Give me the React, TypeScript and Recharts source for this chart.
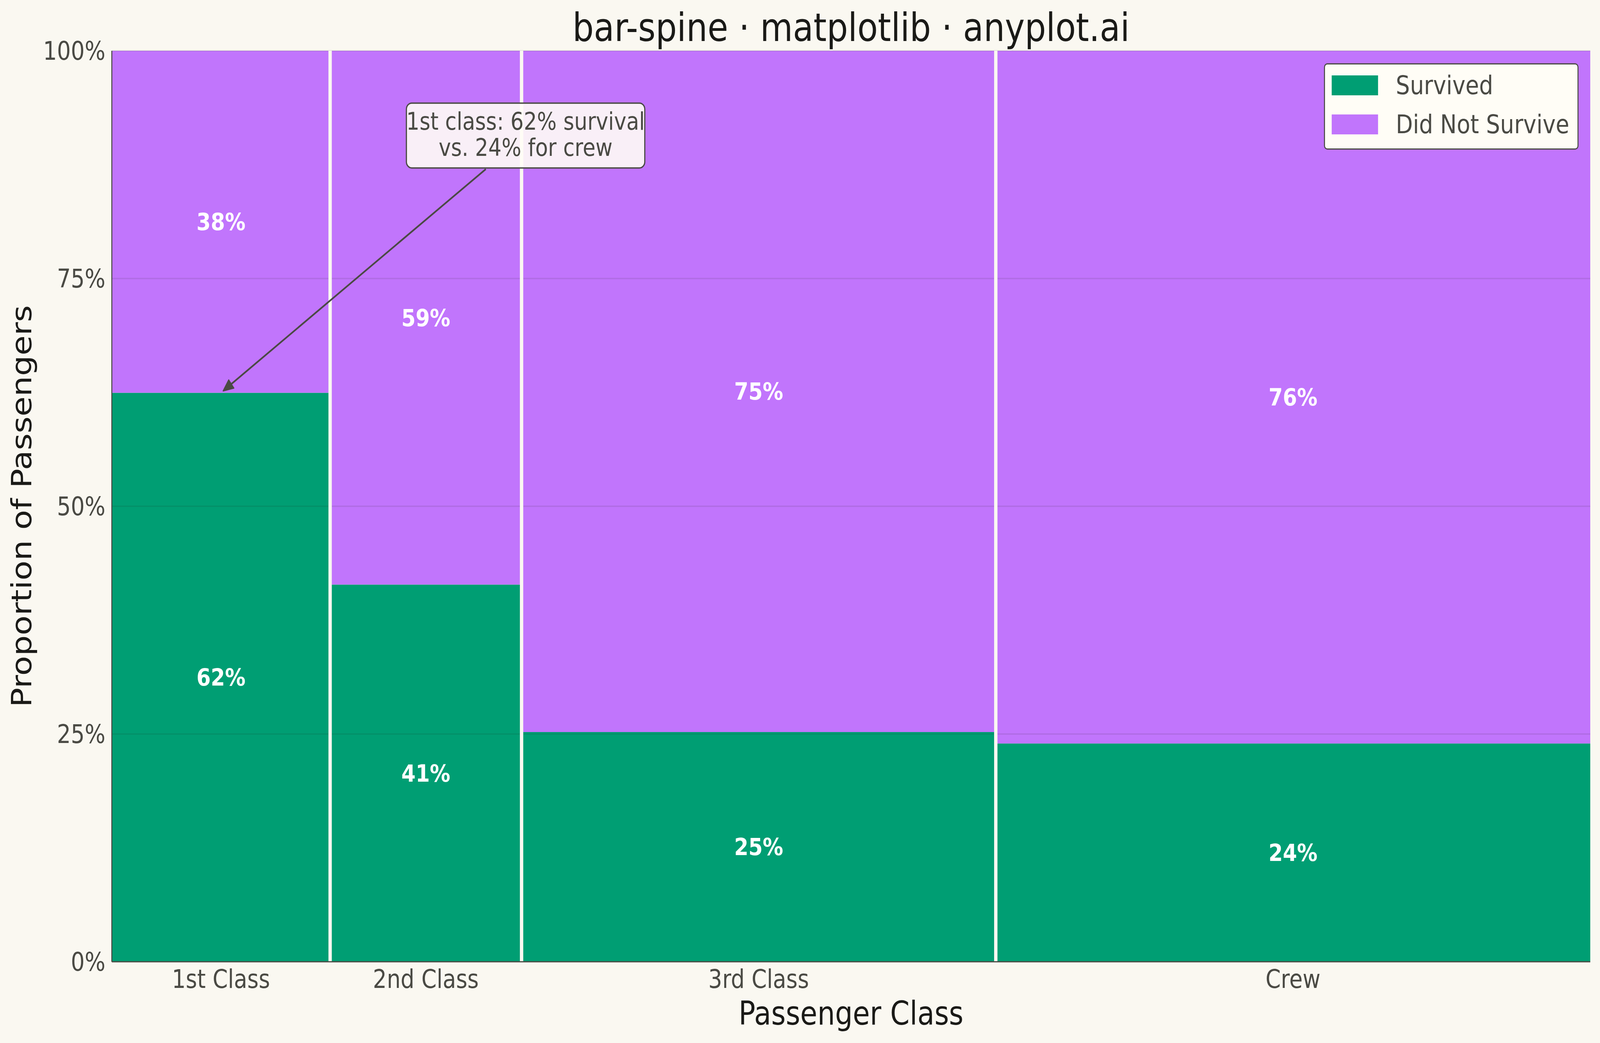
import React from "react";
import {
  ComposedChart,
  XAxis,
  YAxis,
  ReferenceArea,
  ReferenceLine,
  Scatter,
  Legend,
} from "recharts";

// titanic passengers by class (bar widths) and how many survived
const classes = ["1st Class", "2nd Class", "3rd Class", "Crew"];
const passengers = [325, 285, 706, 885];
const survivors = [203, 118, 178, 212];
const seriesNames = ["Survived", "Did Not Survive"];
const yTicks = [0, 0.25, 0.5, 0.75, 1];
const annotationLines = ["1st class: 62% survival", "vs. 24% for crew"];
const annotationText = { x: 616, y: 0.907 };

const W = 4765;
const H = 2670;
const BG = "#FAF8F1";
const GREEN = "#009E73";
const PURPLE = "#C175FC";
const INK = "#1A1A17";
const SOFT = "#4A4A44";
const FONT = "DejaVu Sans";

const total = passengers.reduce((a, b) => a + b, 0);
const segments = classes.map((name, i) => {
  const x1 = passengers.slice(0, i).reduce((a, b) => a + b, 0);
  const x2 = x1 + passengers[i];
  const rate = survivors[i] / passengers[i];
  return { name, x1, x2, mid: (x1 + x2) / 2, rate };
});
const mids = segments.map((s) => s.mid);

const pct = (v: number) => `${Math.round(v * 100)}%`;

const labelPoints = segments.flatMap((s) => [
  { x: s.mid, y: s.rate / 2, label: pct(s.rate) },
  { x: s.mid, y: s.rate + (1 - s.rate) / 2, label: pct(1 - s.rate) },
]);

const ValueLabel = (p: any) => (
  <text
    x={p.cx}
    y={p.cy}
    textAnchor="middle"
    dominantBaseline="central"
    fill="#FFFFFF"
    fontWeight="bold"
    fontSize={61}
    fontFamily={FONT}
  >
    {p.payload.label}
  </text>
);

// text box at the segment start, arrow to the segment end
const Annotation = (p: any) => {
  const { x1, y1, x2, y2 } = p;
  const bw = 710;
  const bh = 166;
  const dx = x2 - x1;
  const dy = y2 - y1;
  const len = Math.hypot(dx, dy);
  const ux = dx / len;
  const uy = dy / len;
  const t = Math.min(bw / 2 / Math.abs(dx), bh / 2 / Math.abs(dy));
  const sx = x1 + dx * t + ux * 5;
  const sy = y1 + dy * t + uy * 5;
  const ex = x2 - ux * 8;
  const ey = y2 - uy * 8;
  const head = 30;
  const hw = 13;
  const bx = ex - ux * head;
  const by = ey - uy * head;
  return (
    <g>
      <line x1={sx} y1={sy} x2={bx} y2={by} stroke={SOFT} strokeWidth={4.5} />
      <polygon
        points={`${ex},${ey} ${bx - uy * hw},${by + ux * hw} ${bx + uy * hw},${by - ux * hw}`}
        fill={SOFT}
        stroke={SOFT}
        strokeWidth={3}
        strokeLinejoin="round"
      />
      <rect
        x={x1 - bw / 2}
        y={y1 - bh / 2}
        width={bw}
        height={bh}
        rx={16}
        fill="#FFFDF6"
        fillOpacity={0.9}
        stroke={SOFT}
        strokeWidth={3.5}
      />
      {annotationLines.map((line, i) => (
        <text
          key={line}
          x={x1}
          y={y1 - 15 + i * 67}
          textAnchor="middle"
          fill={SOFT}
          fontSize={62}
          fontFamily={FONT}
        >
          {line}
        </text>
      ))}
    </g>
  );
};

const LegendBox = () => (
  <div
    style={{
      position: "relative",
      width: 758,
      height: 221,
      boxSizing: "border-box",
      border: `3px solid ${SOFT}`,
      borderRadius: 10,
      background: "#FFFDF6",
      fontFamily: FONT,
    }}
  >
    {seriesNames.map((name, i) => (
      <div
        key={name}
        style={{ position: "absolute", left: 20, top: 28 + i * 100, height: 51, display: "flex", alignItems: "center" }}
      >
        <div style={{ width: 138, height: 51, background: i === 0 ? GREEN : PURPLE }} />
        <span style={{ marginLeft: 53, fontSize: 66, lineHeight: "51px", color: SOFT, whiteSpace: "nowrap" }}>
          {name}
        </span>
      </div>
    ))}
  </div>
);

export default function App() {
  // fit the fixed-size figure into the viewport if the window came out smaller
  const vw = typeof window !== "undefined" ? window.innerWidth : W;
  const vh = typeof window !== "undefined" ? window.innerHeight : H;
  const kx = Math.min(1, vw / W);
  const ky = Math.min(1, vh / H);

  return (
    <div style={{ width: W * kx, height: H * ky, overflow: "hidden", background: BG }}>
      <style>{`html,body{margin:0;background:${BG};overflow:hidden;}`}</style>
      <div
        style={{
          position: "relative",
          width: W,
          height: H,
          background: BG,
          fontFamily: FONT,
          transform: `scale(${kx}, ${ky})`,
          transformOrigin: "0 0",
        }}
      >
        <div
          style={{
            position: "absolute",
            left: 333,
            width: 4403,
            top: 21,
            textAlign: "center",
            fontSize: 100,
            lineHeight: "100px",
            color: INK,
            whiteSpace: "nowrap",
          }}
        >
          bar-spine · matplotlib · anyplot.ai
        </div>
        <ComposedChart width={W} height={H} margin={{ top: 130, right: 29, left: 0, bottom: 0 }}>
          <XAxis
            type="number"
            dataKey="x"
            domain={[0, total]}
            ticks={mids}
            interval={0}
            allowDataOverflow
            tickFormatter={(v: number) => classes[mids.indexOf(v)] ?? ""}
            height={208}
            tickLine={false}
            tickSize={0}
            tickMargin={21}
            axisLine={{ stroke: SOFT, strokeWidth: 3 }}
            tick={{ fill: SOFT, fontSize: 65, fontFamily: FONT }}
            label={{
              content: (p: any) => (
                <text
                  x={p.viewBox.x + p.viewBox.width / 2}
                  y={p.viewBox.y + 161}
                  textAnchor="middle"
                  fill={INK}
                  fontSize={83}
                  fontFamily={FONT}
                >
                  Passenger Class
                </text>
              ),
            }}
          />
          <YAxis
            type="number"
            dataKey="y"
            domain={[0, 1]}
            ticks={yTicks}
            interval={0}
            allowDataOverflow
            tickFormatter={pct}
            width={333}
            tickLine={false}
            tickSize={0}
            tickMargin={19}
            axisLine={{ stroke: SOFT, strokeWidth: 3 }}
            tick={{ fill: SOFT, fontSize: 65, fontFamily: FONT }}
            label={{
              content: (p: any) => {
                const x = p.viewBox.x + 93;
                const y = p.viewBox.y + p.viewBox.height / 2;
                return (
                  <text
                    x={x}
                    y={y}
                    transform={`rotate(-90, ${x}, ${y})`}
                    textAnchor="middle"
                    fill={INK}
                    fontSize={83}
                    fontFamily={FONT}
                  >
                    Proportion of Passengers
                  </text>
                );
              },
            }}
          />
          {segments.map((s) => (
            <ReferenceArea
              key={`s-${s.name}`}
              x1={s.x1}
              x2={s.x2}
              y1={0}
              y2={s.rate}
              fill={GREEN}
              fillOpacity={1}
              stroke="none"
            />
          ))}
          {segments.map((s) => (
            <ReferenceArea
              key={`d-${s.name}`}
              x1={s.x1}
              x2={s.x2}
              y1={s.rate}
              y2={1}
              fill={PURPLE}
              fillOpacity={1}
              stroke="none"
            />
          ))}
          {yTicks.map((t) => (
            <ReferenceLine key={`g-${t}`} y={t} stroke={INK} strokeOpacity={0.1} strokeWidth={3.3} />
          ))}
          {segments.slice(0, -1).map((s) => (
            <ReferenceLine key={`v-${s.name}`} x={s.x2} stroke={BG} strokeWidth={10} />
          ))}
          <Scatter data={labelPoints} dataKey="y" shape={ValueLabel} isAnimationActive={false} />
          <ReferenceLine
            segment={[annotationText, { x: segments[0].mid, y: segments[0].rate }]}
            shape={Annotation}
          />
          <Legend
            layout="horizontal"
            verticalAlign="middle"
            align="center"
            wrapperStyle={{ left: 3943, top: 162, width: 758, height: 221 }}
            content={() => <LegendBox />}
          />
        </ComposedChart>
      </div>
    </div>
  );
}
